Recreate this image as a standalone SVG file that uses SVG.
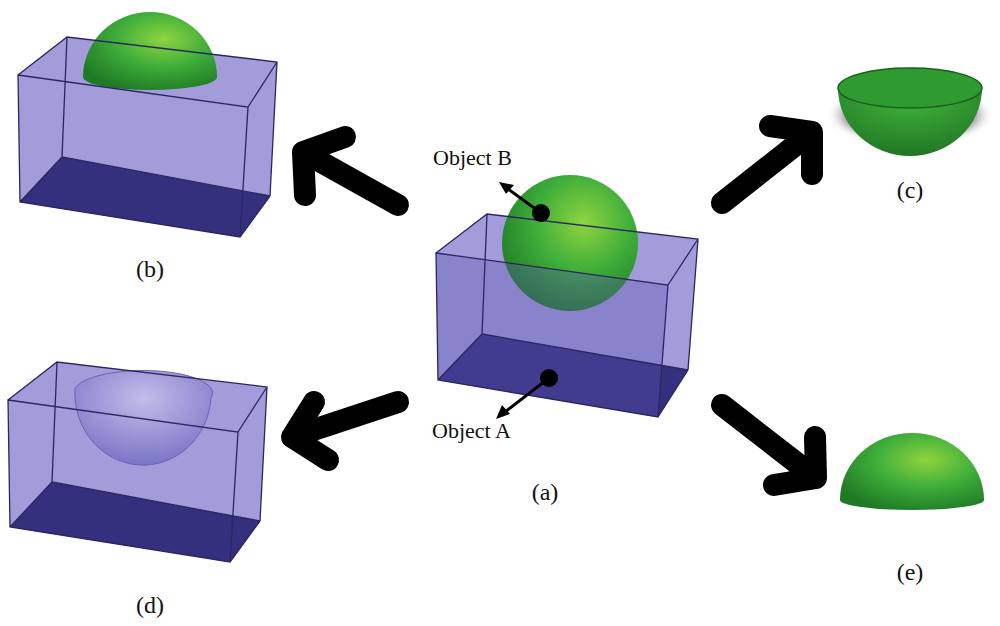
<svg xmlns="http://www.w3.org/2000/svg" width="1000" height="626" viewBox="0 0 1000 626">
<defs>
<radialGradient id="g" cx="0.6" cy="0.35" r="0.7"><stop offset="0" stop-color="#8fd43f"/><stop offset="0.5" stop-color="#3fae3a"/><stop offset="1" stop-color="#1f7a25"/></radialGradient>
<radialGradient id="gi" cx="0.5" cy="0.2" r="0.9"><stop offset="0" stop-color="#3fb03a"/><stop offset="1" stop-color="#1d6f22"/></radialGradient>
<radialGradient id="sh" cx="0.5" cy="0.5" r="0.5"><stop offset="0" stop-color="#333"/><stop offset="0.7" stop-color="#666"/><stop offset="1" stop-color="#fff" stop-opacity="0"/></radialGradient>
<radialGradient id="bw" cx="0.5" cy="0.3" r="0.7"><stop offset="0" stop-color="#c2bdea"/><stop offset="1" stop-color="#7a74c6"/></radialGradient>
</defs>
<style>
.hull{fill:#a29dda}
.edge{fill:none;stroke:#2b2660;stroke-width:1.3}
.floor{fill:#35307e}
.tint{fill:#5a52b0;fill-opacity:0.35}
.ar{fill:none;stroke:#000;stroke-width:22;stroke-linecap:round;stroke-linejoin:round}
.t{font-family:"Liberation Serif",serif;font-size:24px;fill:#111}
.small{font-family:"Liberation Serif",serif;font-size:22px;fill:#111}
</style>
<g id="box-b">
<polygon points="18,75 67,37 277,62 270,196 240,237 20,202" class="hull"/>
<polygon points="62,157 270,196 240,237 20,202" class="floor"/>
<path d="M83,77 A67,65 0 0 1 217,77 A67,13 0 0 1 83,77 Z" fill="url(#g)"/>
<path d="M18,75 L248,107 L240,237 L20,202 Z M248,107 L277,62 M240,237 L270,196 M20,202 L62,157 M67,37 L62,157 L270,196 M18,75 L67,37 L277,62 L270,196" class="edge"/>
<text x="150" y="277" class="t" text-anchor="middle">(b)</text>
</g>
<g id="box-d">
<polygon points="8,400 57,362 267,387 260,521 230,562 10,527" class="hull"/>
<polygon points="52,482 260,521 230,562 10,527" class="floor"/>
<path d="M75,388 A68,72 0 0 0 211,398 A68,22 0 0 0 75,388 Z" fill="url(#bw)" stroke="#6a64b8" stroke-width="1"/>
<path d="M8,400 L238,432 L230,562 L10,527 Z M238,432 L267,387 M230,562 L260,521 M10,527 L52,482 M57,362 L52,482 L260,521 M8,400 L57,362 L267,387 L260,521" class="edge"/>
<text x="150" y="613" class="t" text-anchor="middle">(d)</text>
</g>
<g id="box-a">
<polygon points="436,253 487,214 698,239 688,370 658,417 438,380" class="hull"/>
<polygon points="482,334 688,370 658,417 438,380" class="floor"/>
<circle cx="570" cy="243" r="68" fill="url(#g)"/>
<polygon points="436,253 668,285 658,417 438,380" class="tint"/>
<path d="M436,253 L668,285 L658,417 L438,380 Z M668,285 L698,239 M658,417 L688,370 M438,380 L482,334 M487,214 L482,334 L688,370 M436,253 L487,214 L698,239 L688,370" class="edge"/>
<text x="545" y="500" class="t" text-anchor="middle">(a)</text>
</g>
<g id="labels">
<text x="433" y="165" class="small">Object B</text>
<circle cx="541" cy="213" r="9" fill="#000"/>
<line x1="541" y1="213" x2="508" y2="189" stroke="#000" stroke-width="3"/>
<polygon points="499,182 514,185 506,194" fill="#000"/>
<text x="432" y="438" class="small">Object A</text>
<circle cx="549" cy="378" r="9" fill="#000"/>
<line x1="549" y1="378" x2="505" y2="412" stroke="#000" stroke-width="3"/>
<polygon points="496,419 502,405 510,414" fill="#000"/>
</g>
<g id="part-c">
<ellipse cx="910" cy="115" rx="84" ry="32" fill="url(#sh)"/>
<path d="M838,88 A72,68 0 0 0 982,88 Z" fill="url(#gi)"/>
<ellipse cx="910" cy="88" rx="72" ry="20" fill="#2f9a30" stroke="#1b5e1f" stroke-width="1.5"/>
<text x="910" y="198" class="t" text-anchor="middle">(c)</text>
</g>
<g id="part-e">
<path d="M840,500 A72,67 0 0 1 984,500 A72,10 0 0 1 840,500 Z" fill="url(#g)"/>
<text x="910" y="580" class="t" text-anchor="middle">(e)</text>
</g>
<g id="connectors">
<path class="ar" d="M398,205 L303,152 M305,195 L303,152 L345,137"/>
<path class="ar" d="M722,203 L812,132 M770,126 L812,132 L812,174"/>
<path class="ar" d="M398,402 L292,437 M314,402 L292,437 L328,460"/>
<path class="ar" d="M722,405 L816,478 M774,485 L816,478 L815,437"/>
</g>
</svg>
